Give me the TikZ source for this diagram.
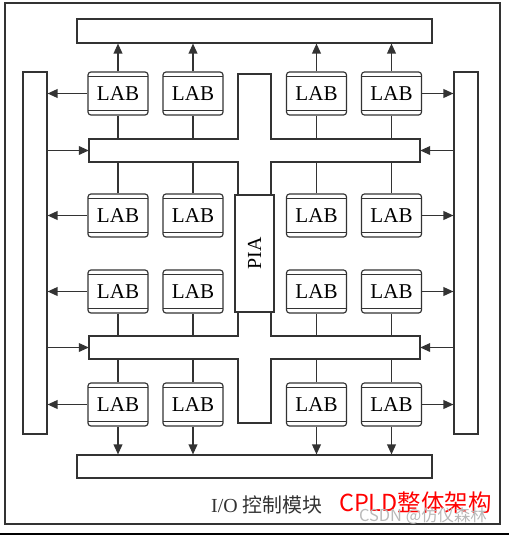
\documentclass[tikz,border=0pt]{standalone}
\usepackage{fontspec}
\setmainfont{Liberation Serif}
\newfontfamily\cjk{Noto Sans CJK SC}
\usetikzlibrary{positioning, arrows.meta, calc}
\definecolor{linegray}{HTML}{333333}
\tikzset{
  lab/.style={draw=linegray, line width=1pt, rounded corners=2.5pt, fill=white,
    minimum width=1.8cm, minimum height=1.29cm, inner sep=0pt,
    font=\fontsize{18}{20}\selectfont,
    path picture={\draw[line width=1pt, linegray]
      ([yshift=-3.5pt]path picture bounding box.north west) -- ([yshift=-3.5pt]path picture bounding box.north east)
      ([yshift=3.5pt]path picture bounding box.south west) -- ([yshift=3.5pt]path picture bounding box.south east);}},
  bar/.style={draw=linegray, line width=1pt, fill=white, inner sep=0pt},
  link/.style={linegray, line width=1pt},
  arr/.style={link, -{Triangle[length=8.5pt,width=7.5pt]}}
}

\begin{document}
\begin{tikzpicture}[x=0.03cm, y=-0.03cm]
\useasboundingbox (0,0) rectangle (509,535);
\draw[linegray, line width=1pt] (5,3) rectangle (500,524);
\fill[black] (0,532.5) rectangle (509,535);

% I/O bars
\node[bar, minimum width=10.65cm, minimum height=0.72cm] (topio) at (254.5,31) {};
\node[bar, minimum width=10.65cm, minimum height=0.69cm] (botio) at (254.5,466.5) {};
\node[bar, minimum width=0.72cm, minimum height=10.86cm] (leftio) at (35,253) {};
\node[bar, minimum width=0.72cm, minimum height=10.86cm] (rightio) at (466,253) {};

% global buses and PIA
\node[minimum width=9.93cm, minimum height=0.69cm, inner sep=0pt] (bus1) at (254.5,150.5) {};
\node[minimum width=9.93cm, minimum height=0.69cm, inner sep=0pt] (bus2) at (254.5,347.5) {};
\draw[link, fill=white] (238,74) -- (271,74) -- (271,139) -- (420,139) -- (420,162) -- (271,162)
  -- (271,336) -- (420,336) -- (420,359) -- (271,359) -- (271,423) -- (238,423) -- (238,359)
  -- (89,359) -- (89,336) -- (238,336) -- (238,162) -- (89,162) -- (89,139) -- (238,139) -- cycle;
\node[bar, rotate=90, minimum width=3.51cm, minimum height=1.17cm, font=\fontsize{17}{19}\selectfont] (pia) at (254.5,253.5) {PIA};

% logic array blocks
\foreach \c/\x in {1/118,2/193,3/316.5,4/391.5}
  \foreach \r/\y in {1/93.5,2/215.5,3/291.5,4/404.5}
    \node[lab] (L\r\c) at (\x,\y) {LAB};

\foreach \c in {1,...,4}
{
  \draw[arr] (L1\c.north) -- (L1\c.north |- topio.south);
  \draw[link] (L1\c.south) -- (L1\c.south |- bus1.north);
  \draw[link] (L2\c.north) -- (L2\c.north |- bus1.south);
  \draw[link] (L3\c.south) -- (L3\c.south |- bus2.north);
  \draw[link] (L4\c.north) -- (L4\c.north |- bus2.south);
  \draw[arr] (L4\c.south) -- (L4\c.south |- botio.north);
}
\foreach \r in {1,...,4}
{
  \draw[arr] (L\r1.west) -- (L\r1.west -| leftio.east);
  \draw[arr] (L\r4.east) -- (L\r4.east -| rightio.west);
}
\foreach \b in {bus1,bus2}
{
  \draw[arr] (\b.west -| leftio.east) -- (\b.west);
  \draw[arr] (\b.east -| rightio.west) -- (\b.east);
}

% caption
\node[anchor=west, text=black!80, font=\fontsize{17}{20}\selectfont] (cap) at (207,505) {I/O {\cjk 控制模块}};
\node[anchor=west, text=red, font=\cjk\fontsize{20}{22}\selectfont] (title) at (335,503) {CPLD整体架构};
\node[anchor=west, text=gray!55, font=\cjk\fontsize{14}{16}\selectfont] (mark) at (355,516) {CSDN @仿仪森林};
\end{tikzpicture}
\end{document}
